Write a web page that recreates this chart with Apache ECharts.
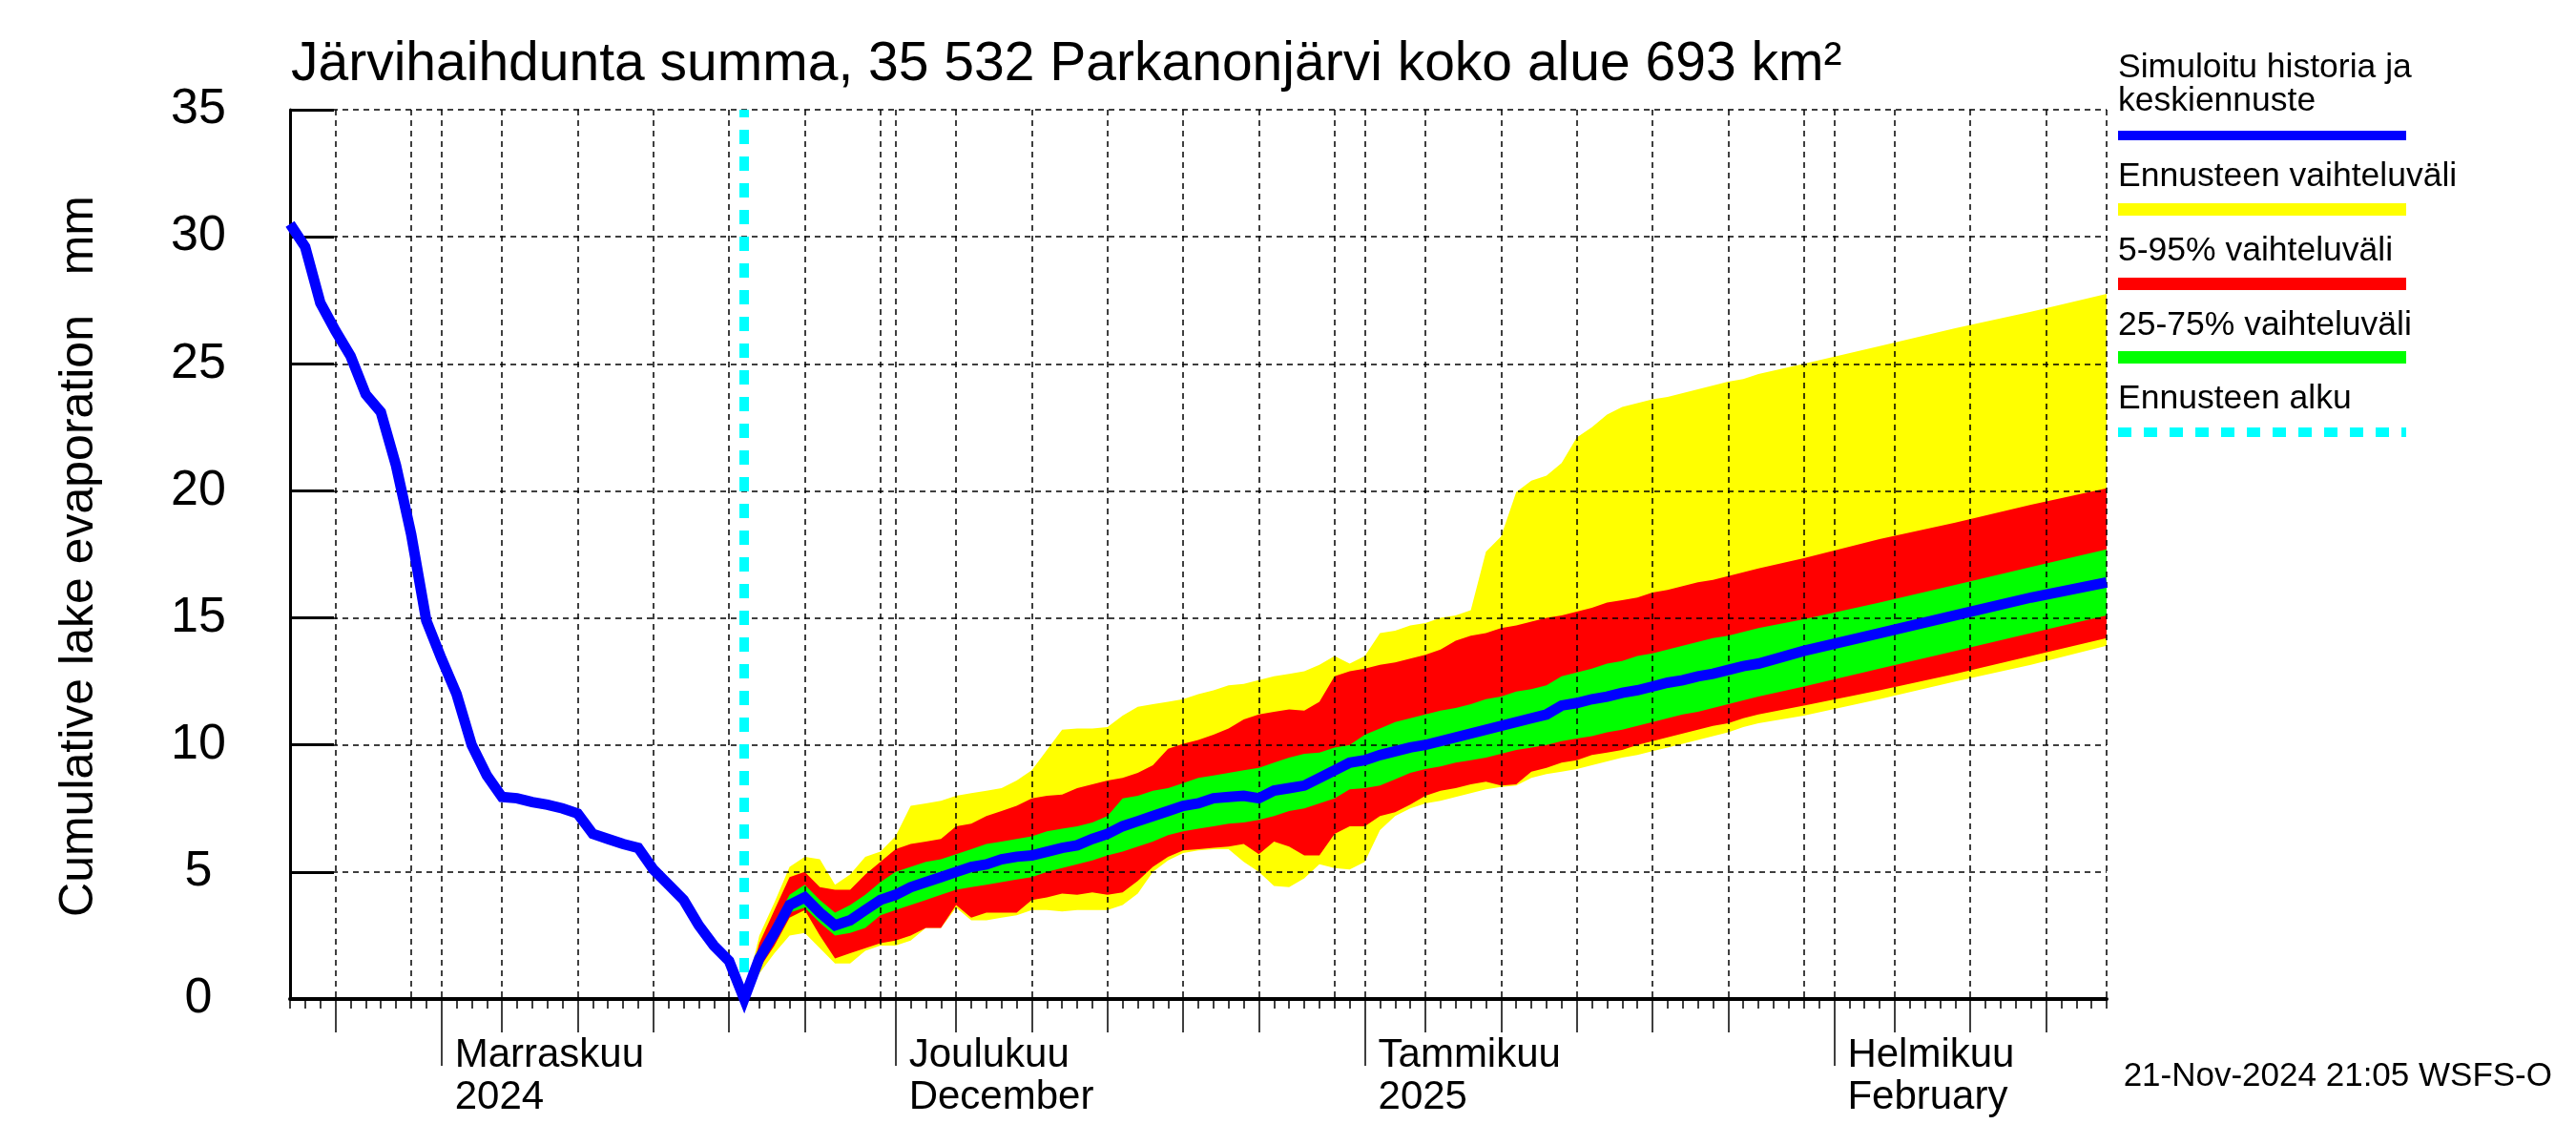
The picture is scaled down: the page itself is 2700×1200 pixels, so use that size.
<!DOCTYPE html>
<html><head><meta charset="utf-8">
<script src="https://cdn.jsdelivr.net/npm/echarts@6/dist/echarts.min.js"></script>
<style>html,body{margin:0;padding:0;background:#fff}#c{width:2700px;height:1200px}</style>
</head><body><div id="c"></div>
<script>
// ---- data ----
const startDate = [2024, 9, 22];     // 22 Oct 2024 (day index 0)
const dayCount = 121;                // up to 19 Feb 2025
const forecastStartDay = 30;         // 21 Nov 2024

const monthLabelTop = ['Marraskuu', 'Joulukuu', 'Tammikuu', 'Helmikuu'];
const monthLabelBottom = ['2024', 'December', '2025', 'February'];
const yTicks = [0, 5, 10, 15, 20, 25, 30, 35];

const histDays = [0,1,2,3,4,5,6,7,8,9,10,11,12,13,14,15,16,17,18,19,20,21,22,23,24,25,26,27,28,29,30];
const histValues = [30.5,29.6,27.4,26.3,25.3,23.8,23.1,21.0,18.3,14.9,13.4,12.0,10.0,8.8,7.95,7.9,7.75,7.65,7.5,7.3,6.5,6.3,6.1,5.95,5.1,4.5,3.9,2.9,2.1,1.5,0.0];

const fcDays = [30,31,32,33,34,35,36,37,38,39,40,41,42,43,44,45,46,47,48,49,50,51,52,53,54,55,56,57,58,59,60,61,62,63,64,65,66,67,68,69,70,71,72,73,74,75,76,77,78,79,80,81,82,83,84,85,86,87,88,89,90,91,92,93,94,95,96,97,100,105,110,115,120];
const fcMax = [0,2.5,3.8,5.2,5.6,5.5,4.5,4.9,5.6,5.8, 6.4,7.6,7.7,7.8,8.0,8.1,8.2,8.3,8.6,9.0, 9.8,10.6,10.65,10.65,10.7,11.15,11.5,11.6,11.7,11.8, 12.0,12.15,12.35,12.4,12.55,12.7,12.8,12.9,13.15,13.5, 13.2,13.5,14.4,14.5,14.7,14.8,15.0,15.1,15.3,17.6, 18.2,19.95,20.4,20.6,21.1,22.1,22.5,23.0,23.3,23.45, 23.6,23.7,23.85,24.0,24.15,24.3,24.4,24.6, 25.0,25.7,26.4,27.05,27.75];
const fcP95 = [0,2.2,3.5,4.8,5.0,4.4,4.3,4.3,4.9,5.4, 5.9,6.1,6.2,6.3,6.8,6.9,7.2,7.4,7.6,7.9, 8.0,8.05,8.3,8.45,8.6,8.7,8.9,9.2,9.85,10.05, 10.2,10.4,10.65,11.0,11.2,11.3,11.4,11.35,11.7,12.7, 12.9,13.0,13.15,13.25,13.4,13.55,13.75,14.1,14.3,14.4, 14.6,14.7,14.85,15.0,15.1,15.25,15.4,15.6,15.7,15.8, 16.0,16.1,16.25,16.4,16.5,16.65,16.8,16.95, 17.35,18.1,18.75,19.45,20.1];
const fcP75 = [0,1.8,3.0,4.1,4.5,3.9,3.4,3.7,4.1,4.6, 5.0,5.2,5.4,5.5,5.7,5.9,6.1,6.2,6.3,6.4, 6.6,6.7,6.8,6.95,7.2,7.9,8.0,8.2,8.3,8.5, 8.7,8.8,8.9,9.0,9.1,9.3,9.5,9.65,9.7,9.9, 10.0,10.4,10.65,10.9,11.05,11.2,11.35,11.45,11.6,11.8, 11.9,12.1,12.2,12.35,12.7,12.85,13.0,13.2,13.3,13.5, 13.6,13.75,13.9,14.05,14.2,14.3,14.45,14.6, 14.95,15.6,16.3,17.0,17.7];
const fcMedian = [0,1.6,2.6,3.7,4.0,3.4,2.9,3.1,3.5,3.9, 4.1,4.4,4.6,4.8,5.0,5.2,5.3,5.5,5.6,5.65, 5.8,5.95,6.05,6.3,6.5,6.8,7.0,7.2,7.4,7.6, 7.7,7.9,7.95,8.0,7.9,8.2,8.3,8.4,8.7,9.0, 9.3,9.4,9.6,9.75,9.9,10.0,10.15,10.3,10.45,10.6, 10.75,10.9,11.05,11.2,11.55,11.65,11.8,11.9,12.05,12.15, 12.3,12.45,12.55,12.7,12.8,12.95,13.1,13.2, 13.7,14.4,15.1,15.8,16.4];
const fcP25 = [0,1.4,2.3,3.4,3.6,3.0,2.5,2.6,2.8,3.3, 3.5,3.7,3.9,4.1,4.3,4.4,4.5,4.6,4.7,4.8, 5.0,5.15,5.3,5.45,5.65,5.8,6.0,6.2,6.45,6.6, 6.7,6.8,6.9,6.95,7.05,7.2,7.4,7.5,7.7,7.9, 8.25,8.3,8.4,8.65,8.9,9.05,9.15,9.3,9.4,9.5, 9.65,9.8,9.9,10.0,10.15,10.25,10.35,10.5,10.6,10.75, 10.9,11.05,11.2,11.3,11.45,11.6,11.75,11.9, 12.3,13.0,13.7,14.4,15.1];
const fcP5 = [0,1.2,2.1,3.2,3.5,2.5,1.6,1.8,2.0,2.2, 2.3,2.5,2.8,2.8,3.7,3.2,3.4,3.4,3.4,3.9, 4.0,4.15,4.1,4.2,4.1,4.2,4.65,5.2,5.6,5.85, 5.9,5.95,6.0,6.1,5.7,6.2,6.0,5.65,5.65,6.5, 6.8,6.8,7.2,7.35,7.65,8.0,8.2,8.3,8.45,8.55, 8.4,8.45,8.95,9.1,9.3,9.4,9.6,9.7,9.8,10.0, 10.15,10.3,10.45,10.6,10.75,10.85,11.05,11.2, 11.55,12.15,12.8,13.5,14.2];
const fcMin = [0,1.0,1.8,2.5,2.6,2.0,1.4,1.4,1.9,2.1, 2.1,2.3,2.8,2.8,3.6,3.1,3.1,3.2,3.3,3.5, 3.5,3.45,3.5,3.5,3.5,3.7,4.15,5.0,5.45,5.75, 5.85,5.9,5.9,5.4,5.0,4.45,4.4,4.75,5.3,5.15, 5.1,5.4,6.65,7.2,7.5,7.7,7.8,7.95,8.1,8.25, 8.35,8.4,8.7,8.85,8.95,9.05,9.2,9.35,9.5,9.6, 9.75,9.9,10.05,10.2,10.35,10.5,10.7,10.85, 11.15,11.8,12.5,13.15,13.9];

// ---- helpers ----
const F = '"Liberation Sans", Arial, Helvetica, sans-serif';
const cats = [], dom = [];
const t0 = Date.UTC(startDate[0], startDate[1], startDate[2]);
for (let i = 0; i < dayCount; i++) {
  const d = new Date(t0 + i * 86400000);
  cats.push(d.toISOString().slice(0, 10));
  dom.push(d.getUTCDate());
}
const monthIdx = [];
dom.forEach((v, i) => { if (v === 1) monthIdx.push(i); });
const gridSet = new Set(), fiveSet = new Set(), monthSet = new Set(monthIdx);
dom.forEach((v, i) => {
  if ([1,5,10,15,20,25,30].includes(v) || i === dayCount - 1) gridSet.add(i);
  if ([5,10,15,20,25].includes(v)) fiveSet.add(i);
});
const pair = (days, vals) => days.map((d, i) => [d, vals[i]]);
const diff = (a, b) => a.map((v, i) => +(v - b[i]).toFixed(4));

function band(name, lower, upper, color, z) {
  return [
    { type: 'line', name: name + ' base', stack: name, data: pair(fcDays, lower), symbol: 'none',
      lineStyle: { width: 0, opacity: 0 }, silent: true, z: z },
    { type: 'line', name: name, stack: name, data: pair(fcDays, diff(upper, lower)), symbol: 'none',
      lineStyle: { width: 0, opacity: 0 }, areaStyle: { color: color, opacity: 1 }, silent: true, z: z }
  ];
}

const blueData = pair(histDays, histValues).concat(pair(fcDays.slice(1), fcMedian.slice(1)));

const catAxisBase = { type: 'category', data: cats, boundaryGap: false, z: 5, position: 'bottom', offset: 0 };
const dashed = { color: '#000', width: 1.5, type: [6, 5] };

const chart = echarts.init(document.getElementById('c'), null, { renderer: 'canvas' });
chart.setOption({
  animation: false,
  backgroundColor: '#fff',
  grid: { left: 304, right: 492, top: 115, bottom: 153, containLabel: false },
  xAxis: [
    Object.assign({}, catAxisBase, {
      axisLine: { show: true, onZero: false, lineStyle: { color: '#000', width: 4 } },
      axisTick: { show: true, interval: 0, length: 10, lineStyle: { color: '#000', width: 1.5 } },
      axisLabel: { show: false },
      splitLine: { show: true, interval: (i) => gridSet.has(i), lineStyle: dashed }
    }),
    Object.assign({}, catAxisBase, {
      axisLine: { show: false, onZero: false },
      axisTick: { show: true, interval: (i) => fiveSet.has(i), length: 35, lineStyle: { color: '#000', width: 1.5 } },
      axisLabel: { show: false }, splitLine: { show: false }
    }),
    Object.assign({}, catAxisBase, {
      axisLine: { show: false, onZero: false },
      axisTick: { show: true, interval: (i) => monthSet.has(i), length: 70, lineStyle: { color: '#000', width: 1.5 } },
      axisLabel: {
        show: true, interval: (i) => monthSet.has(i), margin: 37, align: 'left',
        fontSize: 42, lineHeight: 44, fontFamily: F, color: '#000', padding: [0, 0, 0, 14],
        formatter: (v, i) => { const k = monthIdx.indexOf(i); return k >= 0 ? monthLabelTop[k] + '\n' + monthLabelBottom[k] : ''; }
      },
      splitLine: { show: false }
    })
  ],
  yAxis: {
    type: 'value', min: yTicks[0], max: yTicks[yTicks.length - 1], interval: 5, z: 5,
    axisLine: { show: true, lineStyle: { color: '#000', width: 3 } },
    axisTick: { show: true, inside: true, length: 46, lineStyle: { color: '#000', width: 3 } },
    axisLabel: { fontSize: 52, fontFamily: F, color: '#000', align: 'center', margin: 96, padding: [0, 0, 10, 0] },
    splitLine: { show: true, lineStyle: dashed }
  },
  series: [].concat(
    band('Ennusteen vaihteluväli', fcMin, fcMax, '#FFFF00', 2),
    band('5-95% vaihteluväli', fcP5, fcP95, '#FF0000', 3),
    band('25-75% vaihteluväli', fcP25, fcP75, '#00FF00', 4),
    [{
      type: 'line', name: 'Simuloitu historia ja keskiennuste', data: blueData, symbol: 'none', clip: false,
      lineStyle: { color: '#0000FF', width: 11, join: 'miter', miterLimit: 20 }, z: 8, silent: true,
      markLine: {
        symbol: 'none', silent: true, label: { show: false },
        lineStyle: { color: '#00FFFF', width: 10, type: [15, 13] },
        data: [{ xAxis: cats[forecastStartDay] }]
      }
    }]
  ),
  graphic: [
    { type: 'text', x: 305, y: 68, style: { text: 'Järvihaihdunta summa, 35 532 Parkanonjärvi koko alue 693 km²', font: '57px ' + F, fill: '#000', align: 'left', verticalAlign: 'middle' } },
    { type: 'text', x: 83, y: 583, rotation: Math.PI / 2, style: { text: 'Cumulative lake evaporation   mm', font: '50px ' + F, fill: '#000', align: 'center', verticalAlign: 'middle' } },
    { type: 'text', x: 2220, y: 71, style: { text: 'Simuloitu historia ja', font: '35.5px ' + F, fill: '#000', verticalAlign: 'middle' } },
    { type: 'text', x: 2220, y: 106, style: { text: 'keskiennuste', font: '35.5px ' + F, fill: '#000', verticalAlign: 'middle' } },
    { type: 'rect', shape: { x: 2220, y: 137, width: 302, height: 10 }, style: { fill: '#0000FF' } },
    { type: 'text', x: 2220, y: 185, style: { text: 'Ennusteen vaihteluväli', font: '35.5px ' + F, fill: '#000', verticalAlign: 'middle' } },
    { type: 'rect', shape: { x: 2220, y: 213, width: 302, height: 13 }, style: { fill: '#FFFF00' } },
    { type: 'text', x: 2220, y: 263, style: { text: '5-95% vaihteluväli', font: '35.5px ' + F, fill: '#000', verticalAlign: 'middle' } },
    { type: 'rect', shape: { x: 2220, y: 291, width: 302, height: 13 }, style: { fill: '#FF0000' } },
    { type: 'text', x: 2220, y: 341, style: { text: '25-75% vaihteluväli', font: '35.5px ' + F, fill: '#000', verticalAlign: 'middle' } },
    { type: 'rect', shape: { x: 2220, y: 368, width: 302, height: 13 }, style: { fill: '#00FF00' } },
    { type: 'text', x: 2220, y: 418, style: { text: 'Ennusteen alku', font: '35.5px ' + F, fill: '#000', verticalAlign: 'middle' } },
    { type: 'line', shape: { x1: 2220, y1: 453, x2: 2522, y2: 453 }, style: { stroke: '#00FFFF', lineWidth: 10, lineDash: [14, 13] } },
    { type: 'text', x: 2675, y: 1128, style: { text: '21-Nov-2024 21:05 WSFS-O', font: '35px ' + F, fill: '#000', align: 'right', verticalAlign: 'middle' } }
  ]
});
</script>
</body></html>
